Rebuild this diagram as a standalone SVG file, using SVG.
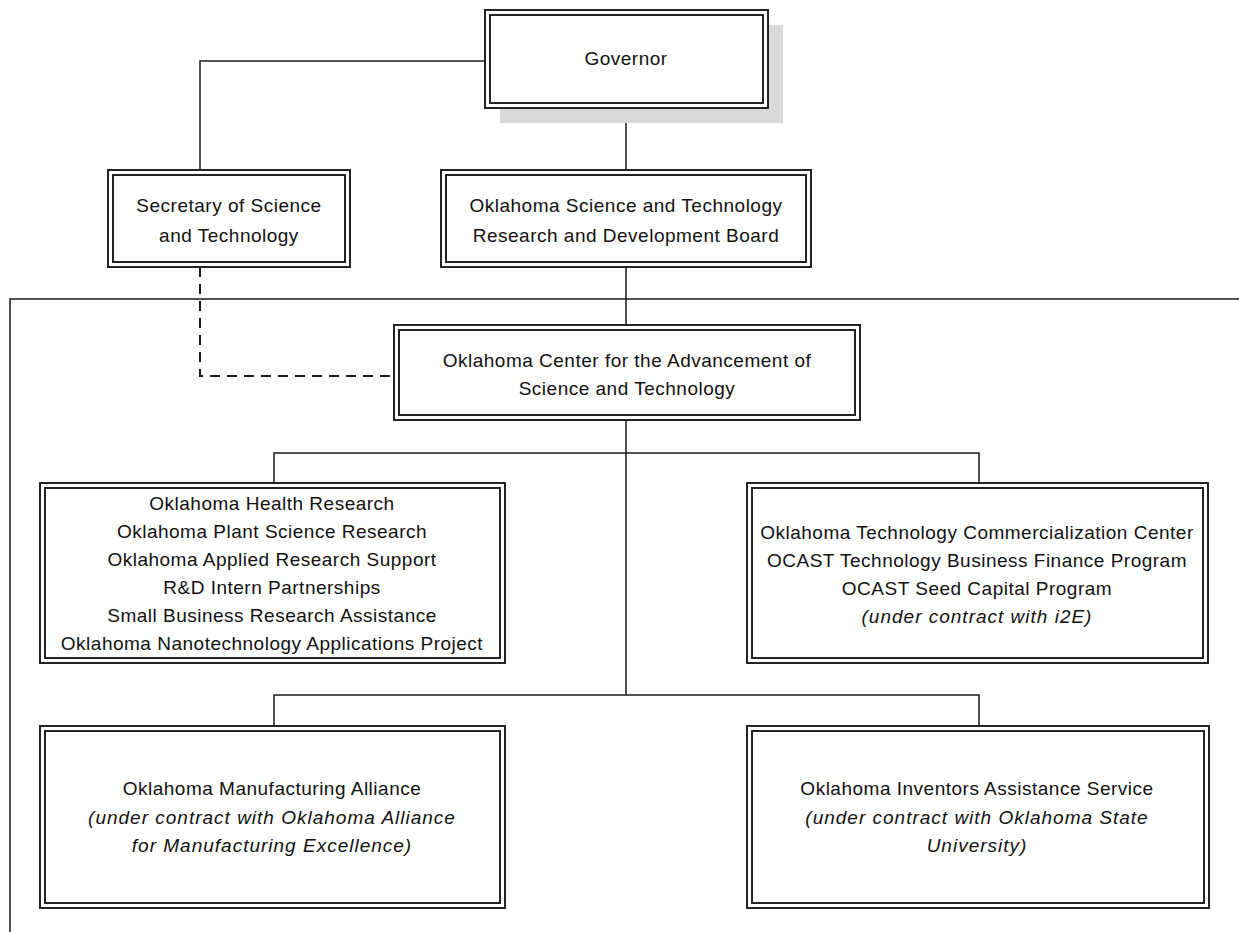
<svg xmlns="http://www.w3.org/2000/svg" width="1239" height="932" viewBox="0 0 1239 932">
<style>
.o{fill:#fff;stroke:#1a1a1a;stroke-width:1.9}
.i{fill:none;stroke:#1a1a1a;stroke-width:1.9}
.t{font-family:"Liberation Sans",Arial,sans-serif;font-size:19px;letter-spacing:0.5px;fill:#111;text-anchor:middle}
.it{font-style:italic;letter-spacing:1px}
.c{fill:none;stroke:#1a1a1a;stroke-width:1.5}
.d{fill:none;stroke:#1a1a1a;stroke-width:2;stroke-dasharray:10 7}
</style>
<rect width="1239" height="932" fill="#fff"/>
<g id="connectors">
<path class="c" d="M485 61H200V170"/>
<path class="c" d="M626 108V170"/>
<path class="c" d="M626 267V325"/>
<path class="c" d="M10 932V299H1239"/>
<path class="d" d="M200 267V376H394"/>
<path class="c" d="M626 420V695"/>
<path class="c" d="M274 483V453H979V483"/>
<path class="c" d="M274 726V695H979V726"/>
</g>
<g id="governor">
<rect x="500" y="25" width="283" height="98" fill="#d9d9d9"/>
<rect class="o" x="485" y="10" width="283" height="98"/>
<rect class="i" x="490" y="15" width="273" height="88"/>
<text class="t" x="626" y="65">Governor</text>
</g>
<g id="secretary">
<rect class="o" x="108" y="170" width="242" height="97"/>
<rect class="i" x="113" y="175" width="232" height="87"/>
<text class="t" x="229" y="212">Secretary of Science</text>
<text class="t" x="229" y="242">and Technology</text>
</g>
<g id="board">
<rect class="o" x="441" y="170" width="370" height="97"/>
<rect class="i" x="446" y="175" width="360" height="87"/>
<text class="t" x="626" y="212">Oklahoma Science and Technology</text>
<text class="t" x="626" y="242">Research and Development Board</text>
</g>
<g id="ocast">
<rect class="o" x="394" y="325" width="466" height="95"/>
<rect class="i" x="399" y="330" width="456" height="85"/>
<text class="t" x="627" y="367">Oklahoma Center for the Advancement of</text>
<text class="t" x="627" y="395">Science and Technology</text>
</g>
<g id="research">
<rect class="o" x="40" y="483" width="465" height="180"/>
<rect class="i" x="45" y="488" width="455" height="170"/>
<text class="t" x="272" y="510">Oklahoma Health Research</text>
<text class="t" x="272" y="538">Oklahoma Plant Science Research</text>
<text class="t" x="272" y="566">Oklahoma Applied Research Support</text>
<text class="t" x="272" y="594">R&amp;D Intern Partnerships</text>
<text class="t" x="272" y="622">Small Business Research Assistance</text>
<text class="t" x="272" y="650">Oklahoma Nanotechnology Applications Project</text>
</g>
<g id="commercialization">
<rect class="o" x="747" y="483" width="461" height="180"/>
<rect class="i" x="752" y="488" width="451" height="170"/>
<text class="t" x="977" y="539">Oklahoma Technology Commercialization Center</text>
<text class="t" x="977" y="567">OCAST Technology Business Finance Program</text>
<text class="t" x="977" y="595">OCAST Seed Capital Program</text>
<text class="t it" x="977" y="623">(under contract with i2E)</text>
</g>
<g id="manufacturing">
<rect class="o" x="40" y="726" width="465" height="182"/>
<rect class="i" x="45" y="731" width="455" height="172"/>
<text class="t" x="272" y="795">Oklahoma Manufacturing Alliance</text>
<text class="t it" x="272" y="824">(under contract with Oklahoma Alliance</text>
<text class="t it" x="272" y="852">for Manufacturing Excellence)</text>
</g>
<g id="inventors">
<rect class="o" x="747" y="726" width="462" height="182"/>
<rect class="i" x="752" y="731" width="452" height="172"/>
<text class="t" x="977" y="795">Oklahoma Inventors Assistance Service</text>
<text class="t it" x="977" y="824">(under contract with Oklahoma State</text>
<text class="t it" x="977" y="852">University)</text>
</g>
</svg>
